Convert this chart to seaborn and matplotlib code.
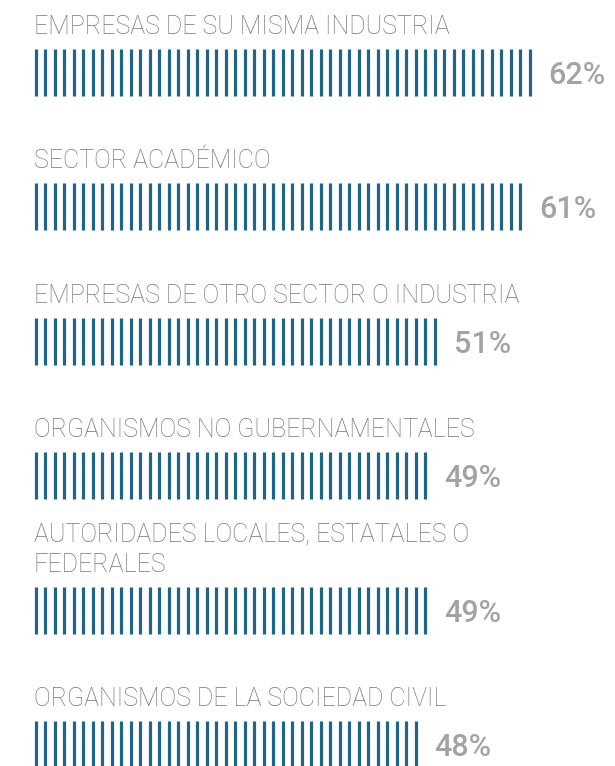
import numpy as np
import matplotlib.pyplot as plt
import seaborn as sns

# survey answers
categories = [
    "EMPRESAS DE SU MISMA INDUSTRIA",
    "SECTOR ACADÉMICO",
    "EMPRESAS DE OTRO SECTOR O INDUSTRIA",
    "ORGANISMOS NO GUBERNAMENTALES",
    "AUTORIDADES LOCALES, ESTATALES O\nFEDERALES",
    "ORGANISMOS DE LA SOCIEDAD CIVIL",
]
values = [62, 61, 51, 49, 49, 48]
value_labels = [f"{v}%" for v in values]

sns.set_theme(style="white")
plt.rcParams['font.family'] = ['Roboto', 'DejaVu Sans']

W, H = 615, 766
x0 = 35.5          # pixel x of the first stripe
px_per_pct = 8.0   # pixels per percentage point
step = 9.5 / px_per_pct
bar_color = "#1f6587"
label_color = "#767676"
value_color = "#a3a3a3"

fig = plt.figure(figsize=(W / 100, H / 100), dpi=100)
ax = fig.add_axes([0, 0, 1, 1])
ax.set_xlim(-x0 / px_per_pct, (W - x0) / px_per_pct)
ax.set_ylim(H, 0)
ax.axis('off')

for i, (cat, v, lab) in enumerate(zip(categories, values, value_labels)):
    top = 49 + 134.4 * i
    bottom = top + 47
    xs = np.arange(0, v + 1e-9, step)
    ax.vlines(xs, top, bottom, color=bar_color, linewidth=2.3)

    lines = cat.split("\n")
    for j, line in enumerate(lines):
        y = top - 15 - 30 * (len(lines) - 1 - j)
        ax.text(-0.2, y, line, ha='left', va='baseline', fontsize=18,
                color=label_color, fontweight='light')

    ax.text(xs[-1] + 19 / px_per_pct, (top + bottom) / 2 + 3, lab,
            ha='left', va='center', fontsize=22, color=value_color,
            fontweight='medium')

fig.savefig("out.png", dpi=100, facecolor='white')
